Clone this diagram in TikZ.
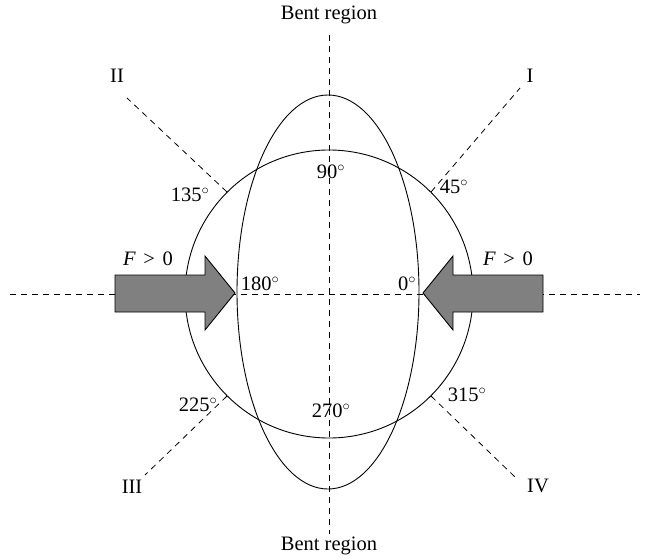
\documentclass[tikz,border=0pt]{standalone}
\usepackage{fontspec}
\setmainfont{Liberation Serif}
\usetikzlibrary{shapes.geometric}
\begin{document}
\begin{tikzpicture}[x=1pt,y=-1pt,
  lbl/.style={inner sep=0pt,font=\fontsize{20.5}{24}\selectfont},
  axis/.style={dashed,dash pattern=on 6pt off 5pt,line width=0.8pt},
  outline/.style={draw,line width=0.9pt},
  force/.style={draw,line width=0.9pt,fill=black!50,line join=miter}]
\useasboundingbox (0,0) rectangle (647,559);
\coordinate (O) at (329,294);
\node[circle,outline,minimum size=288pt,inner sep=0pt] (C) at (329,294) {};
\node[ellipse,outline,minimum width=182pt,minimum height=394pt,inner sep=0pt] (E) at (328,292) {};
% axes
\coordinate (Lend) at (10,294);
\coordinate (Rend) at (640,294);
\coordinate (Tend) at (329,35);
\coordinate (Bend) at (329,534);
\draw[axis] (Lend) -- (Rend);
\draw[axis] (Tend) -- (Bend);
% diagonals
\coordinate (Iend) at (520,88);
\coordinate (IIend) at (127,98);
\coordinate (IIIend) at (145,475);
\coordinate (IVend) at (515,477);
\draw[axis] (C.45) -- (Iend);
\draw[axis] (C.135) -- (IIend);
\draw[axis] (C.225) -- (IIIend);
\draw[axis] (C.315) -- (IVend);
% force arrows
\draw[force] (115,275) -- (205,275) -- (205,256) -- (235,293) -- (205,330) -- (205,312) -- (115,312) -- cycle;
\draw[force] (543,275) -- (453,275) -- (453,256) -- (423,293) -- (453,330) -- (453,312) -- (543,312) -- cycle;
% labels
\node[lbl] (btop) at (329,15) {Bent region};
\node[lbl] (bbot) at (329,546) {Bent region};
\node[lbl] (lI) at (530,76) {I};
\node[lbl] (lII) at (117,76) {II};
\node[lbl] (lIII) at (132,487) {III};
\node[lbl] (lIV) at (538,486) {IV};
\node[lbl] (a90) at (331,172) {90$^\circ$};
\node[lbl] (a270) at (331,411) {270$^\circ$};
\node[lbl] (a180) at (260,284) {180$^\circ$};
\node[lbl] (a0) at (407,284) {0$^\circ$};
\node[lbl] (a45) at (454,187) {45$^\circ$};
\node[lbl] (a135) at (190,195) {135$^\circ$};
\node[lbl] (a225) at (198,405) {225$^\circ$};
\node[lbl] (a315) at (467,395) {315$^\circ$};
\node[lbl] (fl) at (148,259) {\textit{F}\hspace{2.5pt} >\hspace{2.5pt} 0};
\node[lbl] (fr) at (508,259) {\textit{F}\hspace{2.5pt} >\hspace{2.5pt} 0};
\end{tikzpicture}
\end{document}
